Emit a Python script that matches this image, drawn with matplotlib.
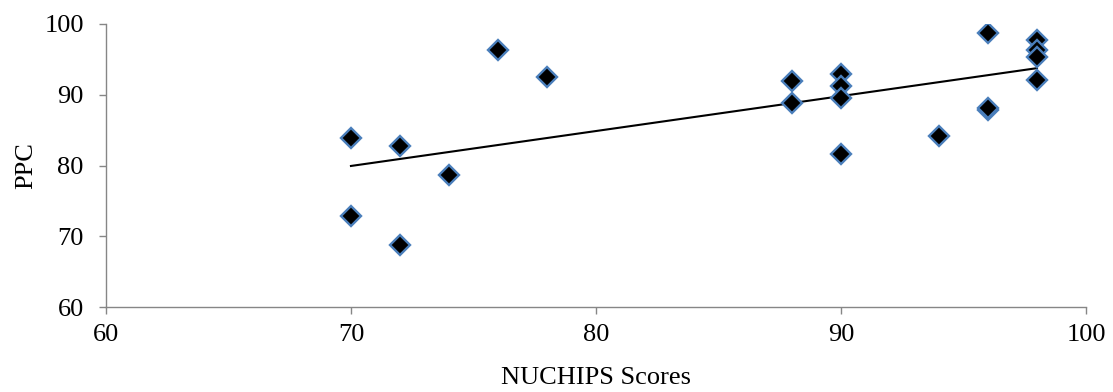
import numpy as np
import matplotlib.pyplot as plt

# NUCHIPS scores vs PPC
nuchips = [70, 70, 72, 72, 74, 76, 78, 88, 88, 90, 90, 90, 90, 94, 96, 96, 96, 98, 98, 98, 98]
ppc = [83.9, 72.9, 82.8, 68.8, 78.7, 96.3, 92.5, 91.9, 88.8, 92.9, 91.3, 89.6, 81.6,
       84.2, 98.7, 87.8, 88.1, 97.8, 96.3, 95.4, 92.1]

plt.rcParams['font.family'] = ['Liberation Serif', 'DejaVu Serif']

fig = plt.figure(figsize=(11.13, 3.92), dpi=100)
ax = fig.add_axes([0.0952, 0.2168, 0.8805, 0.722])

ax.plot(nuchips, ppc, linestyle="none", marker="D", markersize=10.5,
        markerfacecolor="black", markeredgecolor="#4a7ebb", markeredgewidth=1.7, zorder=3)

# linear trend line
slope, intercept = np.polyfit(nuchips, ppc, 1)
xs = np.array([min(nuchips), max(nuchips)])
ax.plot(xs, slope * xs + intercept, color="black", linewidth=1.5, zorder=2)

ax.set_xlim(60, 100)
ax.set_ylim(60, 100)
ax.set_xticks([60, 70, 80, 90, 100])
ax.set_yticks([60, 70, 80, 90, 100])

for side in ["top", "right"]:
    ax.spines[side].set_visible(False)
for side in ["left", "bottom"]:
    ax.spines[side].set_color("#868686")
    ax.spines[side].set_linewidth(1.0)
ax.tick_params(colors="#868686", length=5, width=1.0, labelcolor="black", labelsize=19)
ax.tick_params(axis="x", pad=7)
ax.tick_params(axis="y", pad=11)

ax.set_xlabel("NUCHIPS Scores", fontsize=19, labelpad=15)
ax.set_ylabel("PPC", fontsize=19, labelpad=5)

plt.savefig("out.png", dpi=100)
